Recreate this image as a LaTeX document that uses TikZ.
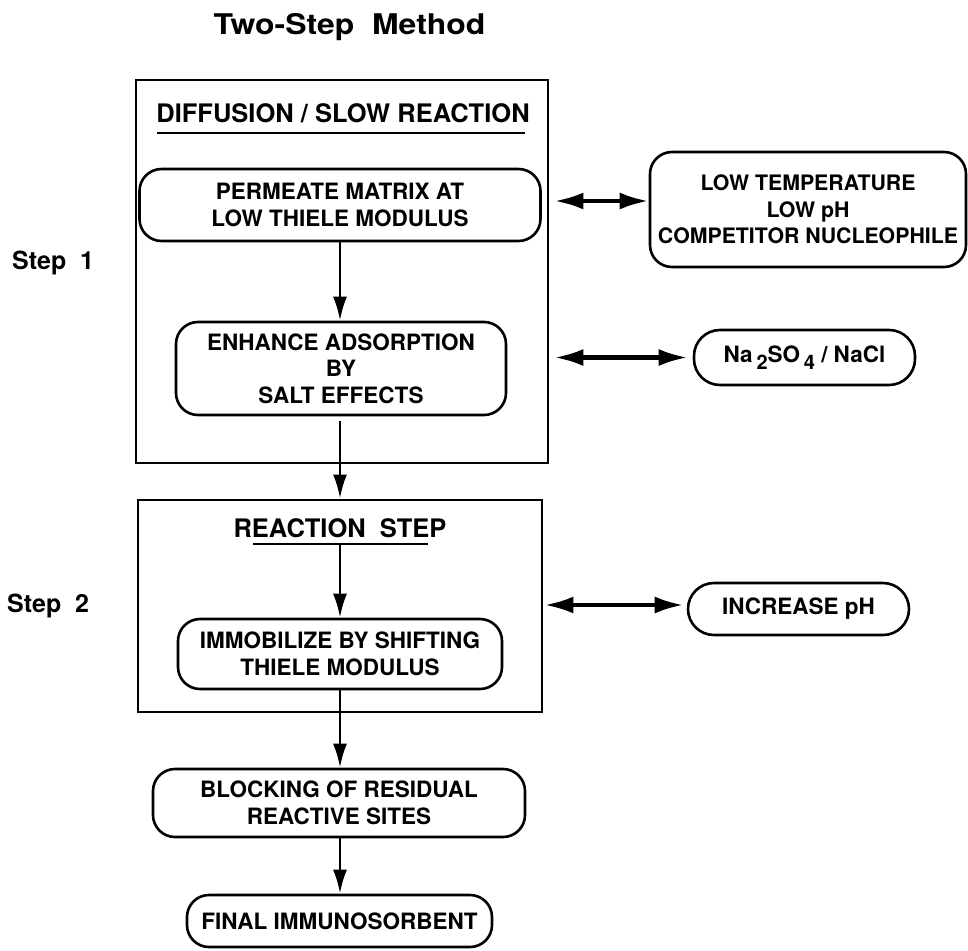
\documentclass[tikz,border=0pt]{standalone}
\usepackage{fontspec}
\setmainfont{TeX Gyre Heros}
\usetikzlibrary{arrows.meta,calc}
\begin{document}
\begin{tikzpicture}[x=1pt,y=-1pt,
  every node/.style={font=\bfseries\fontsize{22.5}{26.5}\selectfont, align=center, inner sep=0pt},
  frame/.style={draw, line width=2.8pt},
  rbox/.style={draw, line width=2.6pt, rounded corners=22pt},
  flow/.style={line width=2.8pt, -{Latex[length=24pt,width=14pt]}},
  dbl/.style={line width=4.2pt, {Latex[length=29pt,width=17pt]}-{Latex[length=29pt,width=17pt]}},
  head/.style={font=\bfseries\fontsize{25.5}{28}\selectfont},
  steplbl/.style={font=\bfseries\fontsize{25}{28}\selectfont, anchor=west}
]
\useasboundingbox (0,0) rectangle (968,950);
% title
\node[font=\bfseries\fontsize{28.5}{32}\selectfont] (title) at (349.5,27) {\scalebox{1.12}[1]{Two-Step\ \ Method}};
% frames
\node[frame, minimum width=412pt, minimum height=383pt] (frame1) at (342,271.5) {};
\node[frame, minimum width=404pt, minimum height=212pt] (frame2) at (340,606) {};
% headers
\node[head] (h1) at (343,113) {DIFFUSION / SLOW REACTION};
\draw[line width=2.6pt] (157,133) coordinate (u1a) -- (525,133) coordinate (u1b);
\node[head] (h2) at (340,528) {REACTION\ \ STEP};
\draw[line width=2.6pt] (253,544) coordinate (u2a) -- (428,544) coordinate (u2b);
% step labels
\node[steplbl] (s1) at (12,263) {Step\ \ 1};
\node[steplbl] (s2) at (7,606) {Step\ \ 2};
% flow boxes
\node[rbox, minimum width=401pt, minimum height=72pt] (perm) at (340,205) {PERMEATE MATRIX AT\\LOW THIELE MODULUS};
\node[rbox, minimum width=330pt, minimum height=93pt] (enh) at (341,368.5) {ENHANCE ADSORPTION\\BY\\SALT EFFECTS};
\node[rbox, minimum width=324pt, minimum height=70pt] (imm) at (340,654) {IMMOBILIZE BY SHIFTING\\THIELE MODULUS};
\node[rbox, minimum width=372pt, minimum height=68pt] (blk) at (339,803) {BLOCKING OF RESIDUAL\\REACTIVE SITES};
\node[rbox, minimum width=305pt, minimum height=52pt] (fin) at (339.5,921) {FINAL IMMUNOSORBENT};
% side boxes
\node[rbox, minimum width=316pt, minimum height=115pt, font=\bfseries\fontsize{21.3}{26.5}\selectfont] (lowt) at (808,209.5) {LOW TEMPERATURE\\LOW pH\\COMPETITOR NUCLEOPHILE};
\node[rbox, rounded corners=26pt, minimum width=221pt, minimum height=55pt] (na) at (804.5,357.5) {Na\,\raisebox{-7pt}{\fontsize{20}{20}\selectfont 2}SO\,\raisebox{-7pt}{\fontsize{20}{20}\selectfont 4} / NaCl};
\node[rbox, rounded corners=26pt, minimum width=221pt, minimum height=52pt] (inc) at (798.5,609) {INCREASE pH};
% flow arrows
\coordinate (cx) at (340,0);
\draw[flow] (cx |- perm.south) -- (cx |- enh.north);
\draw[flow, shorten <=5pt] (cx |- enh.south) -- (cx |- frame2.north);
\draw[flow] (cx |- u2a) -- (cx |- imm.north);
\draw[flow] (cx |- imm.south) -- (cx |- blk.north);
\draw[flow] (cx |- blk.south) -- (cx |- fin.north);
% double arrows
\draw[dbl] ([xshift=5pt]frame1.east |- 0,201) -- (lowt.west |- 0,201);
\draw[dbl] ([xshift=5pt]frame1.east |- na.west) -- ([xshift=-5pt]na.west);
\draw[dbl] ([xshift=1pt]frame2.east |- 0,605) -- ([xshift=-3pt]inc.west |- 0,605);
\end{tikzpicture}
\end{document}
